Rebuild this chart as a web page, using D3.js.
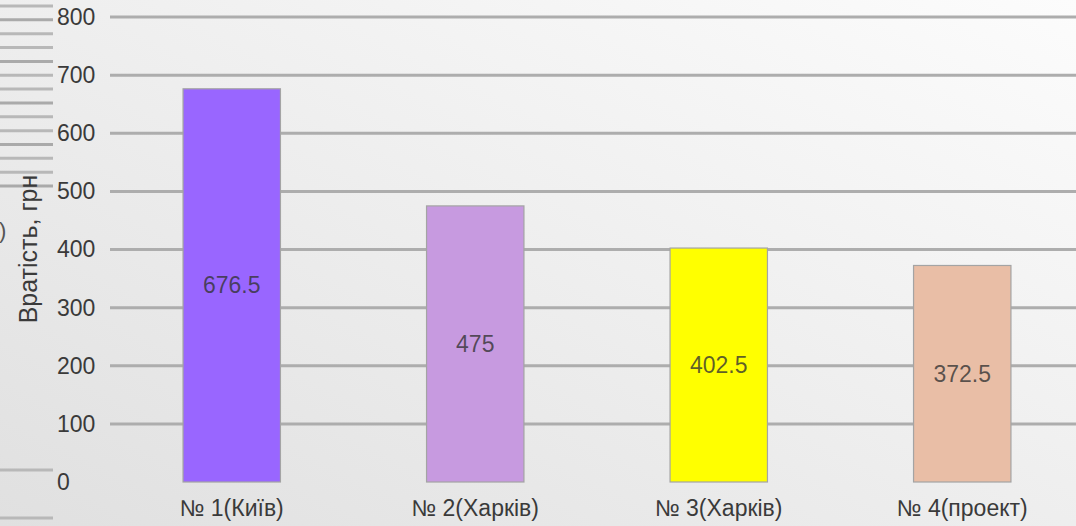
<!DOCTYPE html>
<html>
<head>
<meta charset="utf-8">
<script src="https://cdn.jsdelivr.net/npm/d3@7/dist/d3.min.js"></script>
<style>
  html, body { margin: 0; padding: 0; overflow: hidden; }
  svg { display: block; font-family: "Liberation Sans", Arial, sans-serif; }
</style>
</head>
<body>
<svg id="chart" width="1076" height="526"></svg>
<script>
// Data
const categories = ["№ 1(Київ)", "№ 2(Харків)", "№ 3(Харків)", "№ 4(проект)"];
const values = [676.5, 475, 402.5, 372.5];
const barColors = ["#9966ff", "#c79ae0", "#ffff00", "#e9bea6"];
const yTicks = [0, 100, 200, 300, 400, 500, 600, 700, 800];
const yTitle = "Вратість, грн";

const W = 1076, H = 526;
const svg = d3.select("#chart");

// Slide background gradient
const defs = svg.append("defs");
const bg = defs.append("linearGradient").attr("id", "bg")
  .attr("x1", "100%").attr("y1", "0%").attr("x2", "0%").attr("y2", "100%");
bg.append("stop").attr("offset", "0%").attr("stop-color", "#fcfcfc");
bg.append("stop").attr("offset", "100%").attr("stop-color", "#e0e0e0");
svg.append("rect").attr("width", W).attr("height", H).attr("fill", "url(#bg)");

// Decorative stripes at the left edge of the slide
const stripeY = d3.range(14).map(i => 6 + i * 13.85).concat([470, 518]);
svg.append("g").selectAll("line").data(stripeY).join("line")
  .attr("x1", 0).attr("x2", 53)
  .attr("y1", d => d).attr("y2", d => d)
  .attr("stroke", (d, i) => i % 3 === 1 ? "#aaaaaa" : "#b8b8b8")
  .attr("stroke-width", 3);
svg.append("text").attr("x", -1).attr("y", 238)
  .attr("font-size", 22).attr("fill", "#555").text(")");

// Scales
const x = d3.scaleBand().domain(categories).range([110, 1084])
  .paddingInner(0.6).paddingOuter(0.3);
const y = d3.scaleLinear().domain([0, 800]).range([482, 17]);

// Gridlines (no line at zero)
svg.append("g").selectAll("line").data(yTicks.filter(d => d > 0)).join("line")
  .attr("x1", 110).attr("x2", W)
  .attr("y1", d => y(d)).attr("y2", d => y(d))
  .attr("stroke", "#adadad").attr("stroke-width", 3);

// Y axis tick labels
const yAxis = d3.axisLeft(y).tickValues(yTicks).tickSize(0).tickPadding(0);
const gy = svg.append("g").attr("transform", "translate(57,0)").call(yAxis);
gy.select(".domain").remove();
gy.selectAll("text")
  .attr("text-anchor", "start").attr("x", 0)
  .attr("font-size", 23).attr("font-family", "Liberation Sans, Arial, sans-serif")
  .attr("fill", "#3a3a3a");

// Y axis title
svg.append("text")
  .attr("transform", "translate(37,249) rotate(-90)")
  .attr("text-anchor", "middle")
  .attr("font-size", 25).attr("fill", "#3a3a3a")
  .text(yTitle);

// Bars
svg.append("g").selectAll("rect").data(values).join("rect")
  .attr("x", (d, i) => x(categories[i]))
  .attr("width", x.bandwidth())
  .attr("y", d => y(d))
  .attr("height", d => y(0) - y(d))
  .attr("fill", (d, i) => barColors[i])
  .attr("stroke", "#a4a4a4").attr("stroke-width", 1.2);

// Value labels centred in the bars
svg.append("g").selectAll("text").data(values).join("text")
  .attr("x", (d, i) => x(categories[i]) + x.bandwidth() / 2)
  .attr("y", d => (y(d) + y(0)) / 2)
  .attr("dy", "0.35em")
  .attr("text-anchor", "middle")
  .attr("font-size", 23).attr("fill", "#333").attr("fill-opacity", 0.78)
  .text(d => d);

// Category labels
const xAxis = d3.axisBottom(x).tickSize(0).tickPadding(0);
const gx = svg.append("g").attr("transform", "translate(0,516)").call(xAxis);
gx.select(".domain").remove();
gx.selectAll("text")
  .attr("dy", 0).attr("y", 0)
  .attr("font-size", 23).attr("font-family", "Liberation Sans, Arial, sans-serif")
  .attr("fill", "#3a3a3a");
</script>
</body>
</html>
